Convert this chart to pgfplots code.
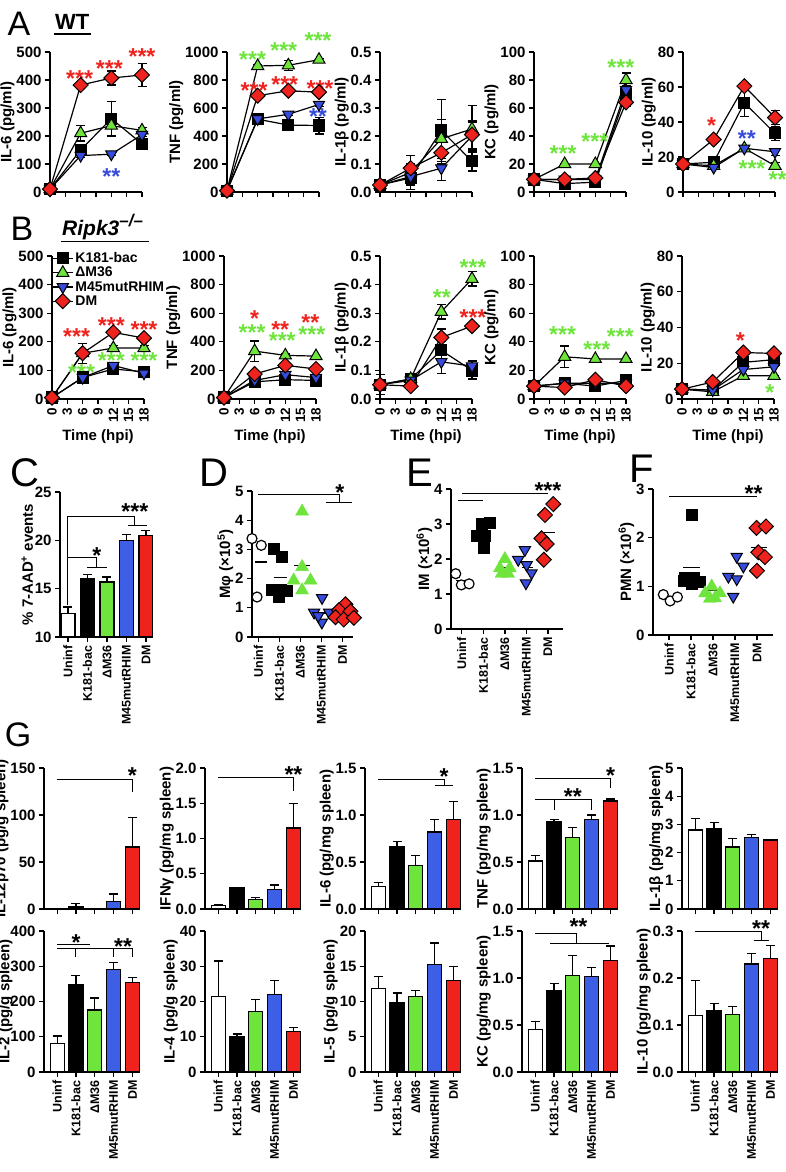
\documentclass[border=0pt]{standalone}
\usepackage{fontspec}
\setmainfont{Liberation Sans}
\usepackage{pgfplots}
\pgfplotsset{compat=1.18}

\definecolor{cgreen}{RGB}{110,228,60}
\definecolor{cblue}{RGB}{55,75,220}
\definecolor{bblue}{RGB}{60,95,230}
\definecolor{cred}{RGB}{238,35,30}

\newcommand\fs[1]{\fontsize{#1}{#1}\selectfont\bfseries}
\newcommand\fr[1]{\fontsize{#1}{#1}\selectfont}

\tikzset{st/.style={font=\fs{23}, inner sep=0pt, anchor=base, yshift=-12.5pt},
  sg/.style={black, line width=1pt},
  pl/.style={inner sep=0pt, font=\fr{#1}}}

\pgfplotsset{
  base/.style={scale only axis, axis lines=left, axis line style={-, line width=1.3pt},
    enlargelimits=false, clip=false, ymin=0,
    major tick length=5pt, tick align=outside, tick style={black, line width=1.3pt},
    tick label style={font=\fs{15}}, ylabel style={font=\fs{15}}, xlabel style={font=\fs{15}},
    ylabel shift=-5pt,
    /pgf/number format/assume math mode=true, /pgf/number format/1000 sep={},
    error bars/error bar style={line width=1.2pt, black},
    error bars/error mark options={rotate=90, mark size=4.5pt, line width=1.2pt, black}},
  one/.style={yticklabel style={/pgf/number format/.cd, fixed, fixed zerofill, precision=1}},
  ts/.style={base, width=92pt, xmin=0, xmax=18, xtick={0,3,...,18}},
  tsA/.style={ts, height=140pt, xticklabels={}},
  tsB/.style={ts, height=143pt, xlabel={Time (hpi)}, xticklabel style={rotate=90, anchor=east, font=\fs{13.5}}},
  cat/.style={base, xtick={0,...,4}, xticklabels={Uninf,K181-bac,ΔM36,M45mutRHIM,DM},
    xticklabel style={rotate=90, anchor=east, font=\fs{12.5}}},
  gb/.style={cat, width=96pt, height=141pt, xmin=-0.7, xmax=4.4},
  gb1/.style={gb, xticklabels={}},
  ln/.style={black, line width=1.2pt, error bars/y dir=both, error bars/y explicit},
  lK/.style={ln, mark=square*, mark size=5.5pt, mark options={fill=black, solid}},
  lA/.style={ln, mark=triangle*, mark size=7pt, mark options={fill=cgreen, line width=1pt}},
  lM/.style={ln, mark=triangle*, mark size=6.5pt, mark options={fill=cblue, rotate=180, line width=1pt}},
  lD/.style={ln, mark=square*, mark size=5.3pt, mark options={fill=cred, rotate=45, line width=1pt}},
  bar/.style={ybar, bar width=14pt, draw=black, line width=1.2pt, error bars/y dir=plus, error bars/y explicit},
  b1/.style={bar, fill=white}, b2/.style={bar, fill=black}, b3/.style={bar, fill=cgreen},
  b4/.style={bar, fill=bblue}, b5/.style={bar, fill=cred},
  pU/.style={only marks, mark=*, mark size=5pt, mark options={fill=white, draw=black, line width=1.2pt}},
  pK/.style={only marks, mark=square*, mark size=5.5pt, mark options={fill=black, draw=black}},
  pA/.style={only marks, mark=triangle*, mark size=7.5pt, mark options={fill=cgreen, draw=cgreen}},
  pM/.style={only marks, mark=triangle*, mark size=6.5pt, mark options={fill=cblue, draw=black, rotate=180, line width=1pt}},
  pD/.style={only marks, mark=square*, mark size=5.3pt, mark options={fill=cred, draw=black, rotate=45, line width=1pt}},
  mn/.style={black, line width=1.2pt, no marks},
}

\begin{document}
\begin{tikzpicture}
\path[use as bounding box] (0,0) rectangle (786pt,-1172pt);

% panel letters and titles
\node[pl=34] at (19pt,-24pt) {A};
\node[font=\fs{22}, anchor=base west, inner sep=0pt] at (55pt,-30pt) {WT};
\draw[line width=1.8pt] (54pt,-34pt) -- (91pt,-34pt);
\node[pl=34] at (22pt,-229pt) {B};
\node[font=\fs{21}, anchor=base west, inner sep=0pt] at (62pt,-235pt) {\itshape Ripk3\raisebox{0.42em}{\fontsize{17}{17}\selectfont --/--}};
\draw[line width=1.8pt] (61pt,-241.5pt) -- (149pt,-241.5pt);
\node[pl=40] at (25pt,-473pt) {C};
\node[pl=40] at (214pt,-473pt) {D};
\node[pl=40] at (420pt,-473pt) {E};
\node[pl=40] at (642pt,-469pt) {F};
\node[pl=34] at (18pt,-735pt) {G};

% ---------- A : WT ----------
\begin{axis}[tsA, at={(50pt,-192pt)}, anchor=south west, ymax=500, ytick={0,100,...,500}, ylabel={IL-6 (pg/ml)}]
\addplot[lK] coordinates {(0,10) +- (0,0) (6,150) +- (0,15) (12,262) +- (0,62) (18,172) +- (0,15)};
\addplot[lA] coordinates {(0,10) +- (0,0) (6,210) +- (0,28) (12,237) +- (0,38) (18,220) +- (0,10)};
\addplot[lM] coordinates {(0,10) +- (0,0) (6,130) +- (0,8) (12,135) +- (0,5) (18,205) +- (0,8)};
\addplot[lD] coordinates {(0,10) +- (0,0) (6,382) +- (0,5) (12,407) +- (0,25) (18,418) +- (0,40)};
\node[st,cred] at (axis cs:5.8,423) {***};
\node[st,cred] at (axis cs:11.6,458) {***};
\node[st,cred] at (axis cs:18,500) {***};
\node[st,cblue] at (axis cs:12,73) {**};
\end{axis}

\begin{axis}[tsA, at={(227pt,-192pt)}, anchor=south west, ymax=1000, ytick={0,200,...,1000}, ylabel={TNF (pg/ml)}]
\addplot[lK] coordinates {(0,10) +- (0,0) (6,520) +- (0,20) (12,478) +- (0,20) (18,475) +- (0,60)};
\addplot[lA] coordinates {(0,10) +- (0,0) (6,900) +- (0,10) (12,905) +- (0,35) (18,945) +- (0,10)};
\addplot[lM] coordinates {(0,10) +- (0,0) (6,522) +- (0,10) (12,555) +- (0,10) (18,625) +- (0,15)};
\addplot[lD] coordinates {(0,10) +- (0,0) (6,688) +- (0,10) (12,723) +- (0,15) (18,713) +- (0,10)};
\node[st,cgreen] at (axis cs:5.0,976) {***};
\node[st,cgreen] at (axis cs:11.1,1043) {***};
\node[st,cgreen] at (axis cs:17.8,1111) {***};
\node[st,cred] at (axis cs:5.3,756) {***};
\node[st,cred] at (axis cs:11.3,803) {***};
\node[st,cred] at (axis cs:18.2,775) {***};
\node[st,cblue] at (axis cs:17.8,573) {**};
\end{axis}

\begin{axis}[tsA, one, at={(380pt,-192pt)}, anchor=south west, ymax=0.5, ytick={0,0.1,0.2,0.3,0.4,0.5}, ylabel={IL-1β (pg/ml)}]
\addplot[lK] coordinates {(0,0.025) +- (0,0) (6,0.05) +- (0,0.04) (12,0.22) +- (0,0.11) (18,0.11) +- (0,0.035)};
\addplot[lA] coordinates {(0,0.025) +- (0,0) (6,0.07) +- (0,0.03) (12,0.19) +- (0,0.07) (18,0.225) +- (0,0.085)};
\addplot[lM] coordinates {(0,0.025) +- (0,0) (6,0.055) +- (0,0.03) (12,0.085) +- (0,0.045) (18,0.2) +- (0,0.05)};
\addplot[lD] coordinates {(0,0.025) +- (0,0) (6,0.085) +- (0,0.045) (12,0.14) +- (0,0.04) (18,0.205) +- (0,0.05)};
\end{axis}

\begin{axis}[tsA, at={(534pt,-192pt)}, anchor=south west, ymax=100, ytick={0,20,...,100}, ylabel={KC (pg/ml)}]
\addplot[lK] coordinates {(0,9) +- (0,0) (6,6) +- (0,0) (12,7) +- (0,0) (18,70) +- (0,3)};
\addplot[lA] coordinates {(0,9) +- (0,0) (6,20) +- (0,0) (12,20) +- (0,0) (18,80) +- (0,5)};
\addplot[lM] coordinates {(0,9) +- (0,0) (6,9) +- (0,0) (12,9) +- (0,0) (18,73) +- (0,3)};
\addplot[lD] coordinates {(0,9) +- (0,0) (6,9) +- (0,0) (12,10) +- (0,0) (18,64) +- (0,3)};
\node[st,cgreen] at (axis cs:5.7,31) {***};
\node[st,cgreen] at (axis cs:11.9,39) {***};
\node[st,cgreen] at (axis cs:17,92) {***};
\end{axis}

\begin{axis}[tsA, at={(683pt,-192pt)}, anchor=south west, ymax=80, ytick={0,20,...,80}, ylabel={IL-10 (pg/ml)}]
\addplot[lK] coordinates {(0,16) +- (0,0) (6,17) +- (0,0) (12,51) +- (0,8) (18,33.5) +- (0,4)};
\addplot[lA] coordinates {(0,16) +- (0,0) (6,15) +- (0,0) (12,25) +- (0,0) (18,15) +- (0,2)};
\addplot[lM] coordinates {(0,16) +- (0,0) (6,14) +- (0,0) (12,25) +- (0,0) (18,23) +- (0,2)};
\addplot[lD] coordinates {(0,16) +- (0,0) (6,30) +- (0,0) (12,60.5) +- (0,0) (18,42.5) +- (0,4)};
\node[st,cred] at (axis cs:5.6,40.6) {*};
\node[st,cblue] at (axis cs:12.5,33) {**};
\node[st,cgreen] at (axis cs:13.5,16) {***};
\node[st,cgreen] at (axis cs:18.5,9.5) {**};
\end{axis}

% ---------- B : Ripk3-/- ----------
\begin{axis}[tsB, at={(52pt,-399pt)}, anchor=south west, ymax=500, ytick={0,100,...,500}, ylabel={IL-6 (pg/ml)},
  legend entries={K181-bac,ΔM36,M45mutRHIM,DM}, legend cell align=left,
  legend style={at={(0,1.04)}, anchor=north west, draw=none, fill=none, font=\fs{14}, row sep=-1pt, inner sep=0pt},
  legend image code/.code={\draw[mark repeat=2,mark phase=2,#1] plot coordinates {(0pt,0pt) (10pt,0pt) (20pt,0pt)};}]
\addplot[lK] coordinates {(0,5) +- (0,0) (6,75) +- (0,0) (12,105) +- (0,8) (18,95) +- (0,8)};
\addplot[lA] coordinates {(0,5) +- (0,0) (6,160) +- (0,10) (12,178) +- (0,10) (18,178) +- (0,8)};
\addplot[lM] coordinates {(0,5) +- (0,0) (6,75) +- (0,5) (12,117) +- (0,5) (18,90) +- (0,0)};
\addplot[lD] coordinates {(0,5) +- (0,0) (6,160) +- (0,35) (12,233) +- (0,10) (18,213) +- (0,8)};
\node[st,cred] at (axis cs:4.8,236) {***};
\node[st,cred] at (axis cs:11.6,274) {***};
\node[st,cred] at (axis cs:18,259) {***};
\node[st,cgreen] at (axis cs:5.8,108) {***};
\node[st,cgreen] at (axis cs:11.6,149) {***};
\node[st,cgreen] at (axis cs:18,149) {***};
\end{axis}

\begin{axis}[tsB, at={(224pt,-399pt)}, anchor=south west, ymax=1000, ytick={0,200,...,1000}, ylabel={TNF (pg/ml)}]
\addplot[lK] coordinates {(0,10) +- (0,0) (6,120) +- (0,0) (12,135) +- (0,10) (18,130) +- (0,0)};
\addplot[lA] coordinates {(0,10) +- (0,0) (6,335) +- (0,70) (12,305) +- (0,10) (18,300) +- (0,0)};
\addplot[lM] coordinates {(0,10) +- (0,0) (6,130) +- (0,0) (12,170) +- (0,10) (18,150) +- (0,0)};
\addplot[lD] coordinates {(0,10) +- (0,0) (6,175) +- (0,10) (12,235) +- (0,15) (18,210) +- (0,10)};
\node[st,cred] at (axis cs:6,591) {*};
\node[st,cgreen] at (axis cs:5.5,498) {***};
\node[st,cred] at (axis cs:11,521) {**};
\node[st,cgreen] at (axis cs:11.4,439) {***};
\node[st,cred] at (axis cs:16.9,568) {**};
\node[st,cgreen] at (axis cs:17.2,486) {***};
\end{axis}

\begin{axis}[tsB, one, at={(380pt,-399pt)}, anchor=south west, ymax=0.5, ytick={0,0.1,0.2,0.3,0.4,0.5}, ylabel={IL-1β (pg/ml)}]
\addplot[lK] coordinates {(0,0.05) +- (0,0.035) (6,0.07) +- (0,0) (12,0.17) +- (0,0.03) (18,0.1) +- (0,0.03)};
\addplot[lA] coordinates {(0,0.05) +- (0,0) (6,0.07) +- (0,0) (12,0.305) +- (0,0.025) (18,0.42) +- (0,0.025)};
\addplot[lM] coordinates {(0,0.05) +- (0,0) (6,0.065) +- (0,0) (12,0.13) +- (0,0.04) (18,0.115) +- (0,0.02)};
\addplot[lD] coordinates {(0,0.05) +- (0,0) (6,0.045) +- (0,0) (12,0.215) +- (0,0.03) (18,0.255) +- (0,0)};
\node[st,cgreen] at (axis cs:12.1,0.37) {**};
\node[st,cgreen] at (axis cs:18.2,0.475) {***};
\node[st,cred] at (axis cs:18.2,0.3) {***};
\end{axis}

\begin{axis}[tsB, at={(534pt,-399pt)}, anchor=south west, ymax=100, ytick={0,20,...,100}, ylabel={KC (pg/ml)}]
\addplot[lK] coordinates {(0,9) +- (0,0) (6,11) +- (0,0) (12,9) +- (0,0) (18,13) +- (0,2)};
\addplot[lA] coordinates {(0,9) +- (0,0) (6,29.5) +- (0,7.5) (12,28) +- (0,0) (18,28) +- (0,0)};
\addplot[lM] coordinates {(0,9) +- (0,0) (6,11) +- (0,0) (12,11) +- (0,0) (18,11) +- (0,0)};
\addplot[lD] coordinates {(0,9) +- (0,0) (6,8) +- (0,0) (12,13.5) +- (0,0) (18,9) +- (0,0)};
\node[st,cgreen] at (axis cs:5.6,48) {***};
\node[st,cgreen] at (axis cs:12.3,38) {***};
\node[st,cgreen] at (axis cs:16.9,47) {***};
\end{axis}

\begin{axis}[tsB, at={(682pt,-399pt)}, anchor=south west, ymax=80, ytick={0,20,...,80}, ylabel={IL-10 (pg/ml)}]
\addplot[lK] coordinates {(0,5.5) +- (0,0) (6,5) +- (0,0) (12,20.5) +- (0,2) (18,22) +- (0,0)};
\addplot[lA] coordinates {(0,5.5) +- (0,0) (6,4) +- (0,0) (12,13) +- (0,0) (18,13) +- (0,0)};
\addplot[lM] coordinates {(0,5.5) +- (0,0) (6,5) +- (0,0) (12,16.5) +- (0,0) (18,18) +- (0,0)};
\addplot[lD] coordinates {(0,5.5) +- (0,0) (6,9.5) +- (0,0) (12,26) +- (0,0) (18,25.5) +- (0,0)};
\node[st,cred] at (axis cs:11.4,35) {*};
\node[st,cgreen] at (axis cs:17.2,6) {*};
\end{axis}

% ---------- C ----------
\begin{axis}[cat, clip=true, at={(60pt,-637pt)}, anchor=south west, width=93pt, height=145pt,
  xmin=-0.41, xmax=4.36, ymin=10, ymax=25, ytick={10,15,20,25}, ylabel={\% 7-AAD\textsuperscript{+} events}]
\addplot[b1] coordinates {(0,12.4) +- (0,0.7)};
\addplot[b2] coordinates {(1,16.0) +- (0,0.5)};
\addplot[b3] coordinates {(2,15.7) +- (0,0.5)};
\addplot[b4] coordinates {(3,20.0) +- (0,0.6)};
\addplot[b5] coordinates {(4,20.5) +- (0,0.5)};
\draw[sg] (axis cs:0,13.3) -- (axis cs:0,22.5) -- (axis cs:3.43,22.5) -- (axis cs:3.43,21.5);
\draw[sg] (axis cs:3.1,21.5) -- (axis cs:4.05,21.5);
\draw[sg] (axis cs:0,18.2) -- (axis cs:1.48,18.2) -- (axis cs:1.48,17.2);
\draw[sg] (axis cs:1,17.2) -- (axis cs:2,17.2);
\node[st] at (axis cs:3.43,23.4) {***};
\node[st] at (axis cs:1.48,18.9) {*};
\end{axis}

% ---------- D ----------
\begin{axis}[cat, at={(252pt,-637pt)}, anchor=south west, width=101pt, height=146pt,
  xmin=-0.3, xmax=4.5, ymax=5, ytick={0,...,5}, ylabel={Mφ (×10\textsuperscript{5})}]
\addplot[pU] coordinates {(-0.3,3.37) (0.14,3.14) (-0.06,1.37)};
\addplot[pK] coordinates {(0.73,3.03) (1.13,2.74) (0.65,1.62) (1.05,1.62) (1.37,1.6) (0.97,1.37)};
\addplot[pA] coordinates {(2.08,4.3) (2.08,2.4) (1.68,1.94) (2.48,1.94) (2.08,1.6)};
\addplot[pM] coordinates {(3.03,1.34) (2.65,0.84) (3.37,0.84) (3.02,0.5) (2.85,0.72)};
\addplot[pD] coordinates {(4.14,1.12) (3.83,0.92) (4.38,0.88) (3.67,0.68) (4.06,0.6) (4.54,0.66)};
\addplot[mn] coordinates {(-0.15,2.57) (0.4,2.57)};
\addplot[mn] coordinates {(0.73,2.05) (1.37,2.05)};
\addplot[mn] coordinates {(1.68,2.45) (2.48,2.45)};
\addplot[mn] coordinates {(2.7,0.82) (3.4,0.82)};
\addplot[mn] coordinates {(3.7,0.8) (4.4,0.8)};
\draw[sg] (axis cs:0,4.89) -- (axis cs:3.87,4.89) -- (axis cs:3.87,4.62);
\draw[sg] (axis cs:3.2,4.62) -- (axis cs:4.46,4.62);
\node[st] at (axis cs:3.87,5.1) {*};
\end{axis}

% ---------- E ----------
\begin{axis}[cat, at={(451pt,-629pt)}, anchor=south west, width=112pt, height=140pt,
  xmin=-0.5, xmax=4.7, ymax=4, ytick={0,...,4}, ylabel={IM (×10\textsuperscript{6})}]
\addplot[pU] coordinates {(-0.28,1.58) (-0.02,1.26) (0.34,1.29)};
\addplot[pK] coordinates {(1.3,3.05) (0.92,3.02) (0.7,2.68) (1.05,2.66) (1.0,2.32)};
\addplot[pA] coordinates {(2,2.0) (1.77,1.74) (2.23,1.74) (1.85,1.58) (2.15,1.58)};
\addplot[pM] coordinates {(2.93,2.26) (2.62,1.98) (3.01,1.83) (3.24,1.6) (2.98,1.31)};
\addplot[pD] coordinates {(4.25,3.57) (3.86,3.26) (3.7,2.59) (3.94,2.43) (3.81,1.98)};
\addplot[mn] coordinates {(-0.25,1.38) (0.35,1.38)};
\addplot[mn] coordinates {(0.72,2.73) (1.3,2.73)};
\addplot[mn] coordinates {(1.62,1.76) (2.38,1.76)};
\addplot[mn] coordinates {(2.78,1.76) (3.32,1.76)};
\addplot[mn] coordinates {(3.63,2.76) (4.32,2.76)};
\draw[sg] (axis cs:0,3.86) -- (axis cs:4,3.86);
\draw[sg] (axis cs:-0.17,3.66) -- (axis cs:1,3.66);
\node[st] at (axis cs:4,4.1) {***};
\end{axis}

% ---------- F ----------
\begin{axis}[cat, at={(653pt,-635pt)}, anchor=south west, width=120pt, height=146pt,
  xmin=-0.73, xmax=4.73, ymax=3, ytick={0,...,3}, ylabel={PMN (×10\textsuperscript{6})}]
\addplot[pU] coordinates {(-0.26,0.83) (0.05,0.7) (0.38,0.78)};
\addplot[pK] coordinates {(1.03,2.47) (0.73,1.18) (1.1,1.18) (1.41,1.1) (1.03,1.06) (0.65,1.12)};
\addplot[pA] coordinates {(1.94,1.0) (1.64,0.86) (2.32,0.86) (1.86,0.75) (2.09,0.76)};
\addplot[pM] coordinates {(3.08,1.61) (3.38,1.41) (2.7,1.2) (3.08,1.15) (2.92,0.79)};
\addplot[pD] coordinates {(3.98,2.2) (4.41,2.23) (4.06,1.7) (4.36,1.6) (4,1.32)};
\addplot[mn] coordinates {(-0.33,0.77) (0.42,0.77)};
\addplot[mn] coordinates {(0.65,1.39) (1.41,1.39)};
\addplot[mn] coordinates {(1.56,0.92) (2.47,0.92)};
\addplot[mn] coordinates {(2.7,1.2) (3.3,1.2)};
\addplot[mn] coordinates {(3.75,1.8) (4.45,1.8)};
\draw[sg] (axis cs:0,2.85) -- (axis cs:4,2.85);
\node[st] at (axis cs:3.85,3.0) {**};
\end{axis}

% ---------- G row 1 ----------
\begin{axis}[gb1, at={(44pt,-909pt)}, anchor=south west, ymax=150, ytick={0,50,100,150}, ylabel={IL-12p70 (pg/g spleen)}]
\addplot[b1] coordinates {(0,0) +- (0,0)};
\addplot[b2] coordinates {(1,3) +- (0,3)};
\addplot[b3] coordinates {(2,0) +- (0,0)};
\addplot[b4] coordinates {(3,8) +- (0,8)};
\addplot[b5] coordinates {(4,66) +- (0,31)};
\draw[sg] (axis cs:0,138) -- (axis cs:4,138) -- (axis cs:4,125);
\node[st] at (axis cs:4,147) {*};
\end{axis}

\begin{axis}[gb1, one, at={(205pt,-909pt)}, anchor=south west, ymax=2, ytick={0,0.5,1,1.5,2}, ylabel={IFNγ (pg/mg spleen)}]
\addplot[b1] coordinates {(0,0.05) +- (0,0.01)};
\addplot[b2] coordinates {(1,0.30) +- (0,0.01)};
\addplot[b3] coordinates {(2,0.14) +- (0,0.02)};
\addplot[b4] coordinates {(3,0.28) +- (0,0.06)};
\addplot[b5] coordinates {(4,1.15) +- (0,0.35)};
\draw[sg] (axis cs:0,1.87) -- (axis cs:4,1.87) -- (axis cs:4,1.67);
\node[st] at (axis cs:4,1.97) {**};
\end{axis}

\begin{axis}[gb1, one, at={(365pt,-909pt)}, anchor=south west, ymax=1.5, ytick={0,0.5,1,1.5}, ylabel={IL-6 (pg/mg spleen)}]
\addplot[b1] coordinates {(0,0.24) +- (0,0.04)};
\addplot[b2] coordinates {(1,0.66) +- (0,0.06)};
\addplot[b3] coordinates {(2,0.46) +- (0,0.11)};
\addplot[b4] coordinates {(3,0.82) +- (0,0.13)};
\addplot[b5] coordinates {(4,0.95) +- (0,0.19)};
\draw[sg] (axis cs:0,1.38) -- (axis cs:3.5,1.38) -- (axis cs:3.5,1.31);
\draw[sg] (axis cs:3,1.31) -- (axis cs:4,1.31);
\node[st] at (axis cs:3.5,1.46) {*};
\end{axis}

\begin{axis}[gb1, one, at={(522pt,-909pt)}, anchor=south west, ymax=1.5, ytick={0,0.5,1,1.5}, ylabel={TNF (pg/mg spleen)}]
\addplot[b1] coordinates {(0,0.51) +- (0,0.06)};
\addplot[b2] coordinates {(1,0.93) +- (0,0.02)};
\addplot[b3] coordinates {(2,0.76) +- (0,0.11)};
\addplot[b4] coordinates {(3,0.95) +- (0,0.05)};
\addplot[b5] coordinates {(4,1.15) +- (0,0.02)};
\draw[sg] (axis cs:0,1.39) -- (axis cs:4,1.39) -- (axis cs:4,1.29);
\draw[sg] (axis cs:0,1.17) -- (axis cs:3,1.17) -- (axis cs:3,1.05);
\draw[sg] (axis cs:1,1.17) -- (axis cs:1,1.05);
\node[st] at (axis cs:4,1.47) {*};
\node[st] at (axis cs:2,1.24) {**};
\end{axis}

\begin{axis}[gb1, at={(682pt,-909pt)}, anchor=south west, ymax=5, ytick={0,...,5}, ylabel={IL-1β (pg/mg spleen)}]
\addplot[b1] coordinates {(0,2.8) +- (0,0.42)};
\addplot[b2] coordinates {(1,2.85) +- (0,0.23)};
\addplot[b3] coordinates {(2,2.2) +- (0,0.3)};
\addplot[b4] coordinates {(3,2.53) +- (0,0.12)};
\addplot[b5] coordinates {(4,2.45) +- (0,0.02)};
\end{axis}

% ---------- G row 2 ----------
\begin{axis}[gb, at={(44pt,-1072pt)}, anchor=south west, ymax=400, ytick={0,100,...,400}, ylabel={IL-2 (pg/g spleen)}, ylabel shift=-9pt]
\addplot[b1] coordinates {(0,80) +- (0,22)};
\addplot[b2] coordinates {(1,247) +- (0,26)};
\addplot[b3] coordinates {(2,176) +- (0,34)};
\addplot[b4] coordinates {(3,291) +- (0,20)};
\addplot[b5] coordinates {(4,255) +- (0,12)};
\draw[sg] (axis cs:0,363) -- (axis cs:1.75,363);
\draw[sg] (axis cs:0,349) -- (axis cs:4,349) -- (axis cs:4,327);
\draw[sg] (axis cs:1,349) -- (axis cs:1,327);
\draw[sg] (axis cs:3,349) -- (axis cs:3,327);
\node[st] at (axis cs:1,380) {*};
\node[st] at (axis cs:3.5,368) {**};
\end{axis}

\begin{axis}[gb, at={(205pt,-1072pt)}, anchor=south west, ymax=40, ytick={0,10,...,40}, ylabel={IL-4 (pg/g spleen)}]
\addplot[b1] coordinates {(0,21.5) +- (0,10)};
\addplot[b2] coordinates {(1,10) +- (0,0.8)};
\addplot[b3] coordinates {(2,17.2) +- (0,3.3)};
\addplot[b4] coordinates {(3,22) +- (0,4)};
\addplot[b5] coordinates {(4,11.5) +- (0,1.1)};
\end{axis}

\begin{axis}[gb, at={(365pt,-1072pt)}, anchor=south west, ymax=20, ytick={0,5,...,20}, ylabel={IL-5 (pg/g spleen)}]
\addplot[b1] coordinates {(0,11.8) +- (0,1.8)};
\addplot[b2] coordinates {(1,9.9) +- (0,1.3)};
\addplot[b3] coordinates {(2,10.7) +- (0,0.9)};
\addplot[b4] coordinates {(3,15.2) +- (0,3.1)};
\addplot[b5] coordinates {(4,13) +- (0,2)};
\end{axis}

\begin{axis}[gb, one, at={(522pt,-1072pt)}, anchor=south west, ymax=1.5, ytick={0,0.5,1,1.5}, ylabel={KC (pg/mg spleen)}]
\addplot[b1] coordinates {(0,0.45) +- (0,0.09)};
\addplot[b2] coordinates {(1,0.87) +- (0,0.07)};
\addplot[b3] coordinates {(2,1.03) +- (0,0.21)};
\addplot[b4] coordinates {(3,1.02) +- (0,0.09)};
\addplot[b5] coordinates {(4,1.19) +- (0,0.15)};
\draw[sg] (axis cs:0,1.47) -- (axis cs:2.2,1.47) -- (axis cs:2.2,1.37);
\draw[sg] (axis cs:0.8,1.37) -- (axis cs:3.9,1.37);
\node[st] at (axis cs:2.3,1.6) {**};
\end{axis}

\begin{axis}[gb, one, at={(682pt,-1072pt)}, anchor=south west, ymax=0.3, ytick={0,0.1,0.2,0.3}, ylabel={IL-10 (pg/mg spleen)}]
\addplot[b1] coordinates {(0,0.12) +- (0,0.075)};
\addplot[b2] coordinates {(1,0.13) +- (0,0.015)};
\addplot[b3] coordinates {(2,0.122) +- (0,0.018)};
\addplot[b4] coordinates {(3,0.23) +- (0,0.022)};
\addplot[b5] coordinates {(4,0.242) +- (0,0.028)};
\draw[sg] (axis cs:0,0.298) -- (axis cs:3.5,0.298) -- (axis cs:3.5,0.279);
\draw[sg] (axis cs:3.1,0.279) -- (axis cs:3.9,0.279);
\node[st] at (axis cs:3.5,0.315) {**};
\end{axis}

\end{tikzpicture}
\end{document}
